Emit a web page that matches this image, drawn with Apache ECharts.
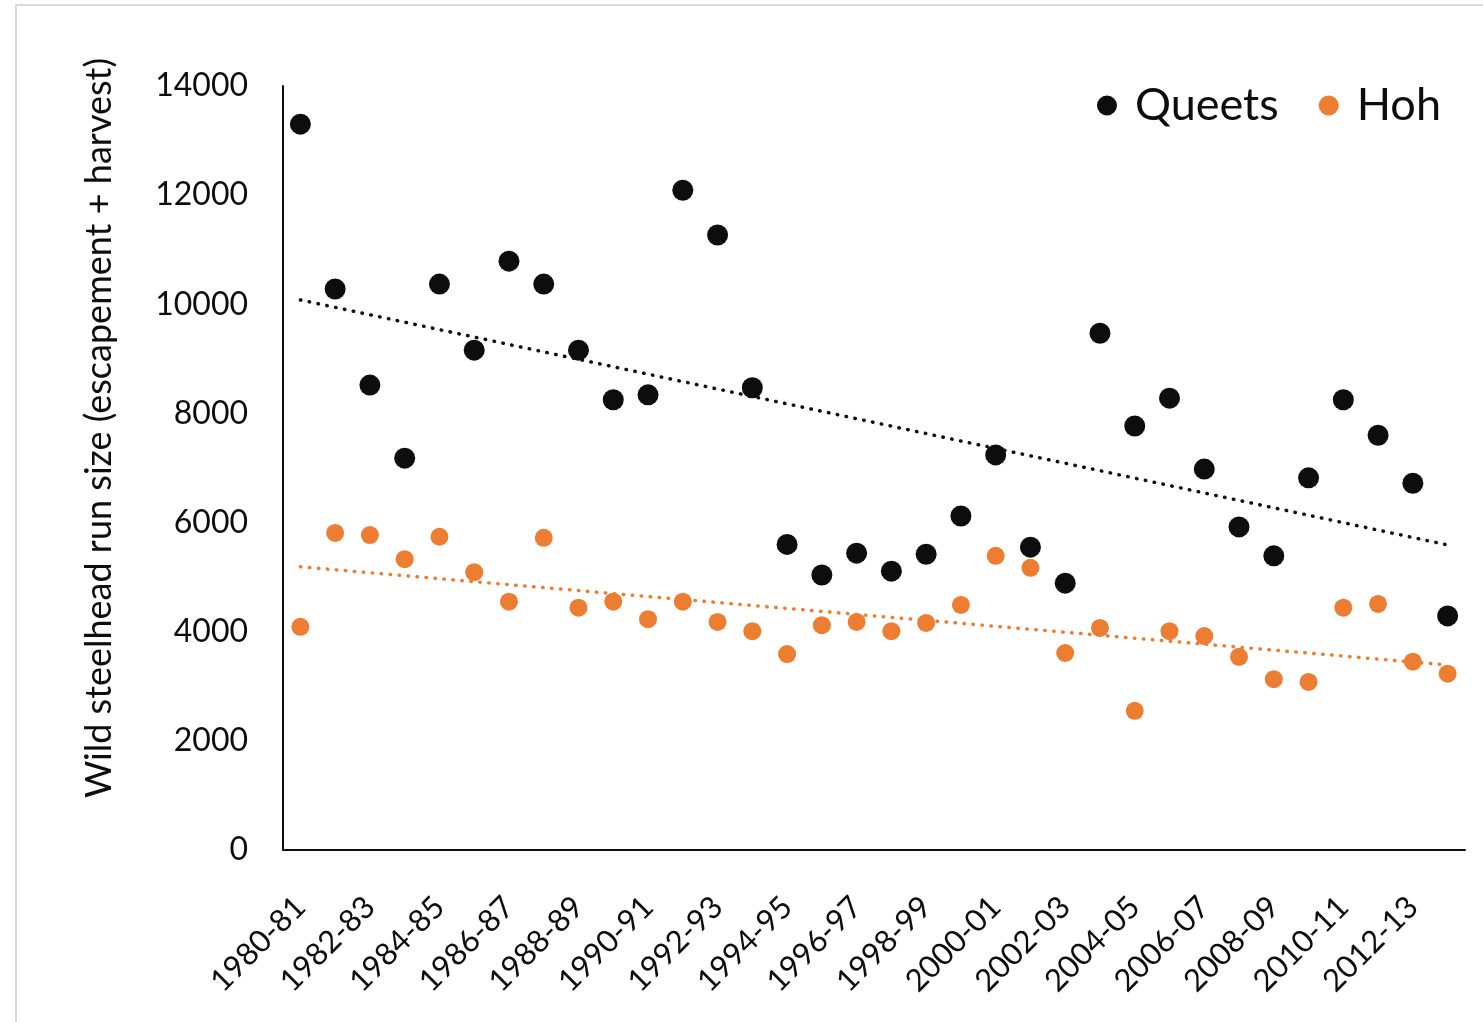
<!DOCTYPE html>
<html>
<head>
<meta charset="utf-8">
<script src="https://cdn.jsdelivr.net/npm/echarts@6/dist/echarts.min.js"></script>
<style>
html,body{margin:0;padding:0;background:#fff;}
#chart{width:1483px;height:1022px;}
</style>
</head>
<body>
<div id="chart"></div>
<script>
const categories = ['1980-81','1981-82','1982-83','1983-84','1984-85','1985-86','1986-87','1987-88','1988-89','1989-90',
  '1990-91','1991-92','1992-93','1993-94','1994-95','1995-96','1996-97','1997-98','1998-99','1999-00',
  '2000-01','2001-02','2002-03','2003-04','2004-05','2005-06','2006-07','2007-08','2008-09','2009-10',
  '2010-11','2011-12','2012-13','2013-14'];
const queets = [13300,10280,8520,7180,10370,9160,10790,10370,9160,8250,
  8340,12090,11270,8470,5600,5040,5440,5110,5420,6120,
  7240,5550,4890,9470,7770,8280,6980,5920,5390,6820,
  8250,7600,6720,4290];
const hoh = [4090,5810,5770,5330,5740,5090,4550,5720,4440,4550,
  4230,4550,4180,4010,3590,4120,4180,4010,4160,4490,
  5390,5170,3610,4070,2550,4010,3920,3540,3130,3080,
  4440,4510,3450,3230];
// trendline end values (first and last season)
const queetsTrend = [10080, 5590];
const hohTrend = [5190, 3390];
const yTicks = [0, 2000, 4000, 6000, 8000, 10000, 12000, 14000];

const FONT = 'Lato';
const BLACK = '#0d0d0d';
const ORANGE = '#ED7D31';

const chart = echarts.init(document.getElementById('chart'), null, {renderer: 'canvas'});
const last = categories.length - 1;
chart.setOption({
  backgroundColor: '#fff',
  animation: false,
  textStyle: {fontFamily: FONT, color: BLACK},
  graphic: [{
    type: 'rect', z: -10,
    shape: {x: 16, y: 5, width: 1500, height: 1040},
    style: {fill: 'none', stroke: '#d9d9d9', lineWidth: 2}
  }],
  grid: {left: 283, right: 18, top: 86, bottom: 172, containLabel: false},
  legend: {
    data: [{name: 'Queets'}, {name: 'Hoh'}],
    right: 37, top: 78,
    icon: 'circle', itemWidth: 20, itemHeight: 20, itemGap: 40,
    textStyle: {fontFamily: FONT, fontSize: 45, color: BLACK, padding: [0, 0, 0, 13]}
  },
  xAxis: {
    type: 'category', data: categories, boundaryGap: true,
    axisLine: {show: true, lineStyle: {color: BLACK, width: 2}},
    axisTick: {show: false},
    splitLine: {show: false},
    axisLabel: {interval: 1, rotate: 45, fontFamily: FONT, fontSize: 31, color: BLACK, margin: 52}
  },
  yAxis: {
    type: 'value', min: 0, max: 14000, interval: 2000,
    name: 'Wild steelhead run size (escapement + harvest)',
    nameLocation: 'middle', nameRotate: 90, nameGap: 166,
    nameTextStyle: {fontFamily: FONT, fontSize: 36, color: BLACK, padding: [0, 0, 0, 80]},
    axisLine: {show: true, lineStyle: {color: BLACK, width: 2}},
    axisTick: {show: false},
    splitLine: {show: false},
    axisLabel: {fontFamily: FONT, fontSize: 32, color: BLACK, margin: 35,
      formatter: v => yTicks.includes(v) ? String(v) : ''}
  },
  series: [
    {name: 'Queets', type: 'scatter', data: queets, symbol: 'circle', symbolSize: 21,
      itemStyle: {color: BLACK, opacity: 1}, z: 2},
    {name: 'Hoh', type: 'scatter', data: hoh, symbol: 'circle', symbolSize: 18,
      itemStyle: {color: ORANGE, opacity: 1}, z: 3},
    {name: 'Queets trend', type: 'line', data: [[categories[0], queetsTrend[0]], [categories[last], queetsTrend[1]]],
      symbol: 'none', silent: true, z: 4,
      lineStyle: {color: BLACK, width: 3.5, type: [0.5, 8.5], cap: 'round'}},
    {name: 'Hoh trend', type: 'line', data: [[categories[0], hohTrend[0]], [categories[last], hohTrend[1]]],
      symbol: 'none', silent: true, z: 4,
      lineStyle: {color: ORANGE, width: 3.5, type: [0.5, 8.5], cap: 'round'}}
  ]
});
</script>
</body>
</html>
